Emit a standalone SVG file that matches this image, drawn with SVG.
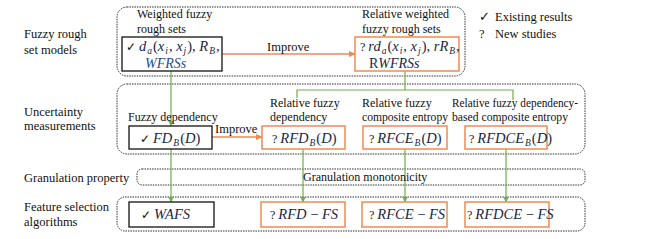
<svg xmlns="http://www.w3.org/2000/svg" width="658" height="239" viewBox="0 0 658 239">
<defs>
<style>
.lbl{font-family:"Liberation Serif","Times New Roman",serif;font-size:12.5px;fill:#111}
.t{font-family:"Liberation Serif","Times New Roman",serif;font-size:12px;fill:#111}
.m{font-family:"Liberation Serif","Times New Roman",serif;font-size:14.5px;fill:#1a2748}
.m2{font-family:"Liberation Serif","Times New Roman",serif;font-size:14px;fill:#1a2748}
.i{font-style:italic}
.s{font-style:italic;font-size:9.5px}
.q{fill:#111;font-size:12px;font-style:normal}
.grp{fill:none;stroke:#333;stroke-width:1;stroke-dasharray:1.5 1}
.old{fill:#fff;stroke:#111;stroke-width:1.3}
.new{fill:#fff;stroke:#ef8b4f;stroke-width:1.5}
.og{fill:none;stroke:#ef8b4f;stroke-width:1.3}
.gr{fill:none;stroke:#70ad47;stroke-width:1.2}
</style>
<marker id="ao" markerWidth="7" markerHeight="6" refX="6" refY="3" orient="auto" markerUnits="userSpaceOnUse"><path d="M0,0 L7,3 L0,6 z" fill="#ef8b4f"/></marker>
<marker id="ag" markerWidth="6" markerHeight="6" refX="3" refY="5.5" orient="0" markerUnits="userSpaceOnUse"><path d="M0,0 L3,6 L6,0 z" fill="#70ad47"/></marker>
</defs>
<rect width="658" height="239" fill="#fff"/>

<g id="row-labels">
<text class="lbl" x="24" y="38">Fuzzy rough</text>
<text class="lbl" x="24" y="54">set models</text>
<text class="lbl" x="24" y="116">Uncertainty</text>
<text class="lbl" x="24" y="130">measurements</text>
<text class="lbl" x="24" y="182">Granulation property</text>
<text class="lbl" x="24" y="211">Feature selection</text>
<text class="lbl" x="24" y="226">algorithms</text>
</g>

<g id="legend">
<text class="lbl" x="479" y="21">✓</text>
<text class="lbl" x="495" y="21">Existing results</text>
<text class="lbl" x="479" y="38">?</text>
<text class="lbl" x="495" y="38">New studies</text>
</g>

<g id="groups">
<rect class="grp" x="117" y="7" width="348" height="69" rx="10"/>
<rect class="grp" x="117" y="84" width="468" height="70" rx="10"/>
<rect class="grp" x="137" y="169" width="448" height="16" rx="5"/>
<rect class="grp" x="117" y="197" width="468" height="34" rx="8"/>
</g>

<g id="connectors">
<line class="og" x1="222" y1="54" x2="355" y2="54" marker-end="url(#ao)"/>
<line class="og" x1="212" y1="137" x2="262" y2="137" marker-end="url(#ao)"/>
<line class="gr" x1="171" y1="71" x2="171" y2="126" marker-end="url(#ag)"/>
<line class="gr" x1="405" y1="71" x2="405" y2="90"/>
<polyline class="gr" points="297,98 297,90 513,90 513,100"/>
<line class="gr" x1="171" y1="149" x2="171" y2="202" marker-end="url(#ag)"/>
<line class="gr" x1="303" y1="149" x2="303" y2="202" marker-end="url(#ag)"/>
<line class="gr" x1="405" y1="149" x2="405" y2="202" marker-end="url(#ag)"/>
<line class="gr" x1="506" y1="149" x2="506" y2="202" marker-end="url(#ag)"/>
</g>

<g id="wfrs">
<text class="t" x="137" y="18">Weighted fuzzy</text>
<text class="t" x="137" y="33">rough sets</text>
<rect class="old" x="122" y="37" width="100" height="34"/>
<text class="m" x="126" y="51"><tspan class="q">✓ </tspan><tspan class="i">d</tspan><tspan class="s" dx="1" dy="2.5">a</tspan><tspan dx="1" dy="-2.5">(</tspan><tspan class="i">x</tspan><tspan class="s" dx="1" dy="2.5">i</tspan><tspan dx="1" dy="-2.5">, </tspan><tspan class="i">x</tspan><tspan class="s" dx="1" dy="2.5">j</tspan><tspan dx="1" dy="-2.5">), </tspan><tspan class="i">R</tspan><tspan class="s" dx="1" dy="2.5">B</tspan><tspan dx="1" dy="-2.5">,</tspan></text>
<text class="m2 i" x="145" y="68" style="fill:#2b4c8c">WFRSs</text>
</g>

<g id="improve1">
<text class="lbl" x="267" y="51">Improve</text>
</g>

<g id="rwfrs">
<text class="t" x="362" y="18">Relative  weighted</text>
<text class="t" x="362" y="33">fuzzy rough sets</text>
<rect class="new" x="355" y="37" width="104" height="34"/>
<text class="m" x="360" y="51"><tspan class="q">? </tspan><tspan class="i">rd</tspan><tspan class="s" dx="1" dy="2.5">a</tspan><tspan dx="1" dy="-2.5">(</tspan><tspan class="i">x</tspan><tspan class="s" dx="1" dy="2.5">i</tspan><tspan dx="1" dy="-2.5">, </tspan><tspan class="i">x</tspan><tspan class="s" dx="1" dy="2.5">j</tspan><tspan dx="1" dy="-2.5">), </tspan><tspan class="i">rR</tspan><tspan class="s" dx="1" dy="2.5">B</tspan><tspan dx="1" dy="-2.5">,</tspan></text>
<text class="m2" x="369" y="68">R<tspan class="i">WFRSs</tspan></text>
</g>

<g id="fd">
<text class="t" x="128" y="121">Fuzzy dependency</text>
<rect class="old" x="129" y="126" width="83" height="23"/>
<text class="m" x="140" y="143"><tspan class="q">✓ </tspan><tspan class="i">FD</tspan><tspan class="s" dx="1" dy="3">B</tspan><tspan dx="1" dy="-3">(</tspan><tspan class="i">D</tspan>)</text>
</g>

<g id="improve2">
<text class="lbl" x="215" y="133">Improve</text>
</g>

<g id="rfd">
<text class="t" x="270" y="107">Relative fuzzy</text>
<text class="t" x="270" y="121">dependency</text>
<rect class="new" x="262" y="126" width="83" height="23"/>
<text class="m" x="272" y="143"><tspan class="q">? </tspan><tspan class="i">RFD</tspan><tspan class="s" dx="1" dy="3">B</tspan><tspan dx="1" dy="-3">(</tspan><tspan class="i">D</tspan>)</text>
</g>

<g id="rfce">
<text class="t" x="362" y="107">Relative fuzzy</text>
<text class="t" x="362" y="121" textLength="86" lengthAdjust="spacingAndGlyphs">composite entropy</text>
<rect class="new" x="363" y="126" width="84" height="23"/>
<text class="m" x="369" y="143"><tspan class="q">? </tspan><tspan class="i">RFCE</tspan><tspan class="s" dx="1" dy="3">B</tspan><tspan dx="1" dy="-3">(</tspan><tspan class="i">D</tspan>)</text>
</g>

<g id="rfdce">
<text class="t" x="452" y="107" textLength="126" lengthAdjust="spacingAndGlyphs">Relative fuzzy dependency-</text>
<text class="t" x="452" y="121" textLength="116" lengthAdjust="spacingAndGlyphs">based composite entropy</text>
<rect class="new" x="465" y="126" width="82" height="23"/>
<text class="m" x="469" y="143"><tspan class="q">? </tspan><tspan class="i">RFDCE</tspan><tspan class="s" dx="1" dy="3">B</tspan><tspan dx="1" dy="-3">(</tspan><tspan class="i">D</tspan>)</text>
</g>

<g id="granulation">
<text class="t" x="303" y="181">Granulation monotonicity</text>
</g>

<g id="wafs">
<rect class="old" x="129" y="202" width="85" height="25"/>
<text class="m" x="141" y="219"><tspan class="q">✓ </tspan><tspan class="i">WAFS</tspan></text>
</g>

<g id="rfdfs">
<rect class="new" x="261" y="202" width="84" height="25"/>
<text class="m" x="270" y="219"><tspan class="q">? </tspan><tspan class="i">RFD</tspan> − <tspan class="i">FS</tspan></text>
</g>

<g id="rfcefs">
<rect class="new" x="362" y="202" width="85" height="25"/>
<text class="m" x="369" y="219"><tspan class="q">? </tspan><tspan class="i">RFCE</tspan> − <tspan class="i">FS</tspan></text>
</g>

<g id="rfdcefs">
<rect class="new" x="465" y="202" width="84" height="25"/>
<text class="m" x="467" y="219"><tspan class="q">? </tspan><tspan class="i">RFDCE</tspan> − <tspan class="i">FS</tspan></text>
</g>
</svg>
